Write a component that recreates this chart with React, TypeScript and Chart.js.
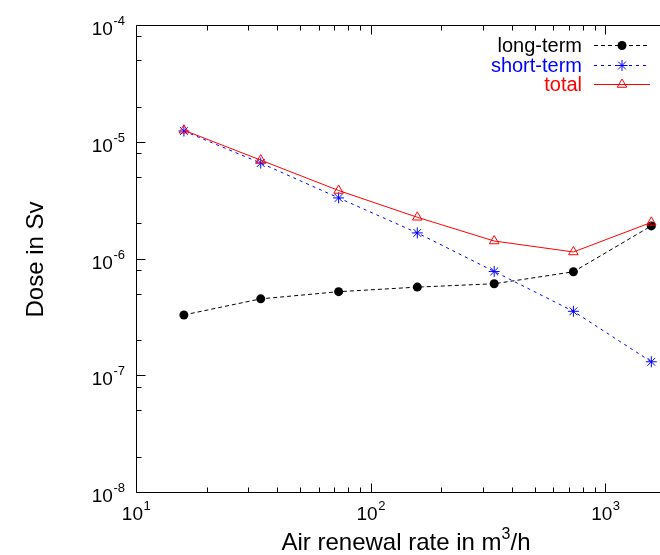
import React, { useEffect, useRef } from 'react';
import { Chart, registerables } from 'chart.js';

Chart.register(...registerables);

// ---- data ----
const airRates = [16, 34, 73, 158, 336, 731, 1570];
const longTerm = [3.35e-7, 4.6e-7, 5.3e-7, 5.8e-7, 6.2e-7, 7.85e-7, 1.94e-6];
const shortTerm = [1.26e-5, 6.7e-6, 3.37e-6, 1.69e-6, 7.9e-7, 3.6e-7, 1.33e-7];
const totalDose = [1.28e-5, 7.1e-6, 3.9e-6, 2.3e-6, 1.44e-6, 1.16e-6, 2.08e-6];
const seriesNames = ['long-term', 'short-term', 'total'];
const seriesColors = ['#000000', '#0000ff', '#ff0000'];
const xMajorExps = [1, 2, 3];
const yMajorExps = [-8, -7, -6, -5, -4];
const xMinorMults = [2, 3, 4, 5, 6, 7, 8, 9];
const yMinorMults = [2, 5, 8];
const xTitleParts = ['Air renewal rate in m', '3', '/h'];
const yTitle = 'Dose in Sv';

const FONT = '"Liberation Sans", Arial, Helvetica, sans-serif';

function drawPow(ctx: CanvasRenderingContext2D, base: string, exp: string, x: number, y: number, align: string, mainSize: number, supSize: number, rise: number) {
  ctx.font = `${mainSize}px ${FONT}`;
  const wb = ctx.measureText(base).width;
  ctx.font = `${supSize}px ${FONT}`;
  const we = ctx.measureText(exp).width;
  const w = wb + we;
  const sx = align === 'center' ? x - w / 2 : align === 'right' ? x - w : x;
  ctx.textAlign = 'left';
  ctx.textBaseline = 'alphabetic';
  ctx.font = `${mainSize}px ${FONT}`;
  ctx.fillText(base, sx, y);
  ctx.font = `${supSize}px ${FONT}`;
  ctx.fillText(exp, sx + wb + 0.5, y - rise);
}

function drawMarker(ctx: CanvasRenderingContext2D, kind: number, x: number, y: number, color: string) {
  ctx.save();
  ctx.strokeStyle = color;
  ctx.fillStyle = color;
  ctx.lineWidth = 1;
  ctx.setLineDash([]);
  if (kind === 0) {
    ctx.beginPath();
    ctx.arc(x, y, 4.5, 0, Math.PI * 2);
    ctx.fill();
  } else if (kind === 1) {
    const r = 5.5;
    ctx.beginPath();
    for (let i = 0; i < 4; i++) {
      const a = (i * Math.PI) / 4;
      ctx.moveTo(x + Math.sin(a) * r, y - Math.cos(a) * r);
      ctx.lineTo(x - Math.sin(a) * r, y + Math.cos(a) * r);
    }
    ctx.stroke();
  } else {
    const r = 5.5;
    ctx.beginPath();
    let a = 0;
    ctx.moveTo(x + Math.sin(a) * r, y - Math.cos(a) * r);
    a += (2 * Math.PI) / 3;
    ctx.lineTo(x + Math.sin(a) * r, y - Math.cos(a) * r);
    a += (2 * Math.PI) / 3;
    ctx.lineTo(x + Math.sin(a) * r, y - Math.cos(a) * r);
    ctx.closePath();
    ctx.stroke();
  }
  ctx.restore();
}

const axesPlugin = {
  id: 'gnuplotAxes',
  afterDraw(chart: any) {
    const ctx: CanvasRenderingContext2D = chart.ctx;
    const xs = chart.scales.x;
    const ys = chart.scales.y;
    const a = chart.chartArea;
    const L = Math.round(a.left) + 0.5;
    const R = Math.round(a.right) - 0.5;
    const T = Math.round(a.top) - 0.5;
    const B = Math.round(a.bottom) - 0.5;
    ctx.save();
    ctx.strokeStyle = '#000';
    ctx.lineWidth = 1;
    ctx.setLineDash([]);
    ctx.beginPath();
    ctx.rect(L, T, R - L, B - T);
    ctx.stroke();

    const major = 9;
    const minor = 5;
    ctx.beginPath();
    // x ticks (bottom and top, inward)
    for (const e of xMajorExps) {
      const v = Math.pow(10, e);
      const px = Math.round(xs.getPixelForValue(v)) + 0.5;
      ctx.moveTo(px, B); ctx.lineTo(px, B - major);
      ctx.moveTo(px, T); ctx.lineTo(px, T + major);
      for (const m of xMinorMults) {
        const mv = m * v;
        if (mv > xs.max) continue;
        const mx = Math.round(xs.getPixelForValue(mv)) + 0.5;
        ctx.moveTo(mx, B); ctx.lineTo(mx, B - minor);
        ctx.moveTo(mx, T); ctx.lineTo(mx, T + minor);
      }
    }
    // y ticks (left and right, inward)
    for (const e of yMajorExps) {
      const v = Math.pow(10, e);
      const py = Math.round(ys.getPixelForValue(v)) - 0.5;
      ctx.moveTo(L, py); ctx.lineTo(L + major, py);
      ctx.moveTo(R, py); ctx.lineTo(R - major, py);
      if (e === yMajorExps[yMajorExps.length - 1]) continue;
      for (const m of yMinorMults) {
        const my = Math.round(ys.getPixelForValue(m * v)) - 0.5;
        ctx.moveTo(L, my); ctx.lineTo(L + minor, my);
        ctx.moveTo(R, my); ctx.lineTo(R - minor, my);
      }
    }
    ctx.stroke();

    // tick labels
    ctx.fillStyle = '#000';
    for (const e of xMajorExps) {
      const px = xs.getPixelForValue(Math.pow(10, e));
      drawPow(ctx, '10', String(e), px, B + 27, 'center', 19, 13, 10);
    }
    for (const e of yMajorExps) {
      const py = ys.getPixelForValue(Math.pow(10, e));
      drawPow(ctx, '10', String(e), L - 12, py + 9, 'right', 19, 13, 10);
    }

    // x title
    const ts = 24;
    const ss = 16;
    ctx.font = `${ts}px ${FONT}`;
    const w0 = ctx.measureText(xTitleParts[0]).width;
    const w2 = ctx.measureText(xTitleParts[2]).width;
    ctx.font = `${ss}px ${FONT}`;
    const w1 = ctx.measureText(xTitleParts[1]).width;
    const cx = (a.left + a.right) / 2;
    const sx = cx - (w0 + w1 + w2) / 2;
    const by = 550;
    ctx.textAlign = 'left';
    ctx.textBaseline = 'alphabetic';
    ctx.font = `${ts}px ${FONT}`;
    ctx.fillText(xTitleParts[0], sx, by);
    ctx.font = `${ss}px ${FONT}`;
    ctx.fillText(xTitleParts[1], sx + w0, by - 11);
    ctx.font = `${ts}px ${FONT}`;
    ctx.fillText(xTitleParts[2], sx + w0 + w1, by);

    // y title
    ctx.save();
    ctx.translate(36, (a.top + a.bottom) / 2);
    ctx.rotate(-Math.PI / 2);
    ctx.font = `${ts}px ${FONT}`;
    ctx.textAlign = 'center';
    ctx.textBaseline = 'middle';
    ctx.fillText(yTitle, 0, 0);
    ctx.restore();

    // legend
    const rows = [45, 65, 84];
    const dashes = [[4, 3], [3, 4], []];
    for (let i = 0; i < 3; i++) {
      const y = rows[i];
      ctx.font = `20px ${FONT}`;
      ctx.fillStyle = seriesColors[i];
      ctx.textAlign = 'right';
      ctx.textBaseline = 'middle';
      ctx.fillText(seriesNames[i], 582, y + 1);
      ctx.save();
      ctx.strokeStyle = seriesColors[i];
      ctx.lineWidth = 1;
      ctx.setLineDash(dashes[i]);
      ctx.beginPath();
      ctx.moveTo(594, y + 0.5);
      ctx.lineTo(650, y + 0.5);
      ctx.stroke();
      ctx.restore();
      drawMarker(ctx, i, 622, y + 0.5, seriesColors[i]);
    }
    ctx.restore();
  },
};

export default function App() {
  const ref = useRef<HTMLCanvasElement>(null);
  useEffect(() => {
    const toXY = (vals: number[]) => vals.map((v, i) => ({ x: airRates[i], y: v }));
    const chart = new Chart(ref.current as HTMLCanvasElement, {
      type: 'line',
      data: {
        datasets: [
          {
            label: seriesNames[0],
            data: toXY(longTerm),
            borderColor: seriesColors[0],
            backgroundColor: seriesColors[0],
            borderWidth: 1,
            borderDash: [4, 3],
            pointStyle: 'circle',
            pointRadius: 4.5,
            pointBorderWidth: 0,
            pointBackgroundColor: seriesColors[0],
            tension: 0,
            order: 2,
          },
          {
            label: seriesNames[1],
            data: toXY(shortTerm),
            borderColor: seriesColors[1],
            backgroundColor: seriesColors[1],
            borderWidth: 1,
            borderDash: [3, 4],
            pointStyle: 'star',
            pointRadius: 5.5,
            pointBorderWidth: 1,
            pointBorderColor: seriesColors[1],
            tension: 0,
            order: 1,
          },
          {
            label: seriesNames[2],
            data: toXY(totalDose),
            borderColor: seriesColors[2],
            backgroundColor: 'rgba(0,0,0,0)',
            borderWidth: 1,
            pointStyle: 'triangle',
            pointRadius: 5.5,
            pointBorderWidth: 1,
            pointBorderColor: seriesColors[2],
            pointBackgroundColor: 'rgba(0,0,0,0)',
            tension: 0,
            order: 0,
          },
        ],
      },
      options: {
        responsive: false,
        devicePixelRatio: 1,
        animation: false,
        layout: { autoPadding: false, padding: { left: 136, top: 26, right: 0, bottom: 62 } },
        plugins: { legend: { display: false }, tooltip: { enabled: false }, title: { display: false } },
        scales: {
          x: { type: 'logarithmic', min: 10, max: 2000, display: false },
          y: { type: 'logarithmic', min: 1e-8, max: 1e-4, display: false },
        },
      },
      plugins: [axesPlugin],
    });
    return () => chart.destroy();
  }, []);
  return (
    <div style={{ position: 'fixed', left: 0, top: 0, width: 660, height: 555, overflow: 'hidden', background: '#fff' }}>
      <canvas ref={ref} width={676} height={555} style={{ display: 'block', width: 676, height: 555 }} />
    </div>
  );
}
